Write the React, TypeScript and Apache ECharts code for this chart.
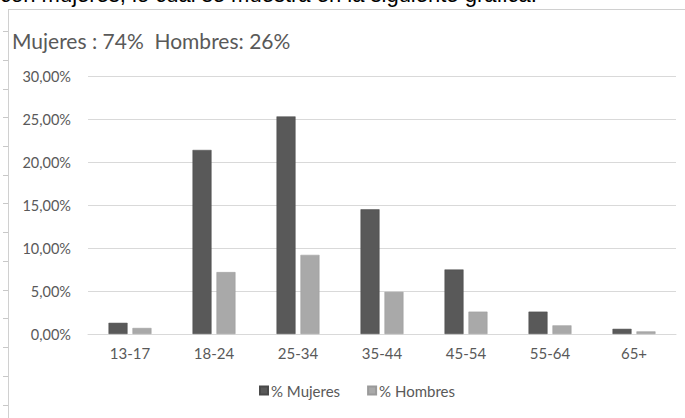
import React, { useEffect, useRef } from "react";
import * as echarts from "echarts";

const categories = ["13-17", "18-24", "25-34", "35-44", "45-54", "55-64", "65+"];
const mujeres = [1.3, 21.4, 25.3, 14.5, 7.5, 2.6, 0.6];
const hombres = [0.7, 7.2, 9.2, 4.9, 2.6, 1.0, 0.3];
const seriesNames = ["% Mujeres", "% Hombres"];
const titleText = "Mujeres : 74%  Hombres: 26%";
const captionText = "con mujeres, lo cual se muestra en la siguiente gráfica.";
const rulerTicks = [31, 60, 89, 117, 146, 175, 203, 232, 261, 290, 318, 347, 376, 405];

const FONT = "Lato, 'Open Sans', sans-serif";

export default function App() {
  const ref = useRef<HTMLDivElement>(null);
  useEffect(() => {
    if (!ref.current) return;
    const chart = echarts.init(ref.current, undefined, { renderer: "svg" });
    const graphics: any[] = [
      {
        type: "text",
        left: 0,
        top: -17,
        style: { text: captionText, font: "22px 'Liberation Sans', Arial, sans-serif", fill: "#000" },
        z: 10,
      },
      { type: "line", shape: { x1: 8, y1: 9.5, x2: 685, y2: 9.5 }, style: { stroke: "#d0d0d0", lineWidth: 1 } },
      { type: "line", shape: { x1: 8.5, y1: 9.5, x2: 8.5, y2: 418 }, style: { stroke: "#d0d0d0", lineWidth: 1 } },
      ...rulerTicks.map((y) => ({
        type: "line",
        shape: { x1: 3, y1: y + 0.5, x2: 8, y2: y + 0.5 },
        style: { stroke: "#c8c8c8", lineWidth: 1 },
      })),
      {
        type: "text",
        left: 12,
        top: 30,
        style: { text: titleText, font: `21px ${FONT}`, fill: "#595959" },
      },
    ];
    chart.setOption({
      animation: false,
      backgroundColor: "#ffffff",
      graphic: graphics,
      legend: {
        data: seriesNames,
        left: 254,
        top: 378,
        itemWidth: 8,
        itemHeight: 8,
        itemGap: 27,
        icon: "rect",
        textStyle: { color: "#595959", fontSize: 15, fontFamily: FONT, padding: [0, 0, 0, -2] },
      },
      grid: { left: 88, right: 9, top: 76, bottom: 84, containLabel: false },
      xAxis: {
        type: "category",
        data: categories,
        axisLine: { lineStyle: { color: "#d9d9d9" } },
        axisTick: { show: false },
        axisLabel: { color: "#595959", fontSize: 15, fontFamily: FONT, margin: 11 },
      },
      yAxis: {
        type: "value",
        min: 0,
        max: 30,
        interval: 5,
        axisLine: { show: false },
        axisTick: { show: false },
        splitLine: { lineStyle: { color: "#d9d9d9" } },
        axisLabel: {
          color: "#595959",
          fontSize: 14.5,
          fontFamily: FONT,
          margin: 17,
          formatter: (v: number) => v.toFixed(2).replace(".", ",") + "%",
        },
      },
      series: [
        {
          name: seriesNames[0],
          type: "bar",
          data: mujeres,
          barWidth: 19,
          barGap: "26%",
          itemStyle: { color: "#595959", borderColor: "#4a4a4a", borderWidth: 0.5 },
        },
        {
          name: seriesNames[1],
          type: "bar",
          data: hombres,
          barWidth: 19,
          itemStyle: { color: "#a9a9a9", borderColor: "#9a9a9a", borderWidth: 0.5 },
        },
      ],
    });
    return () => chart.dispose();
  }, []);
  return <div ref={ref} style={{ position: "fixed", left: 0, top: 0, width: 685, height: 418 }} />;
}
